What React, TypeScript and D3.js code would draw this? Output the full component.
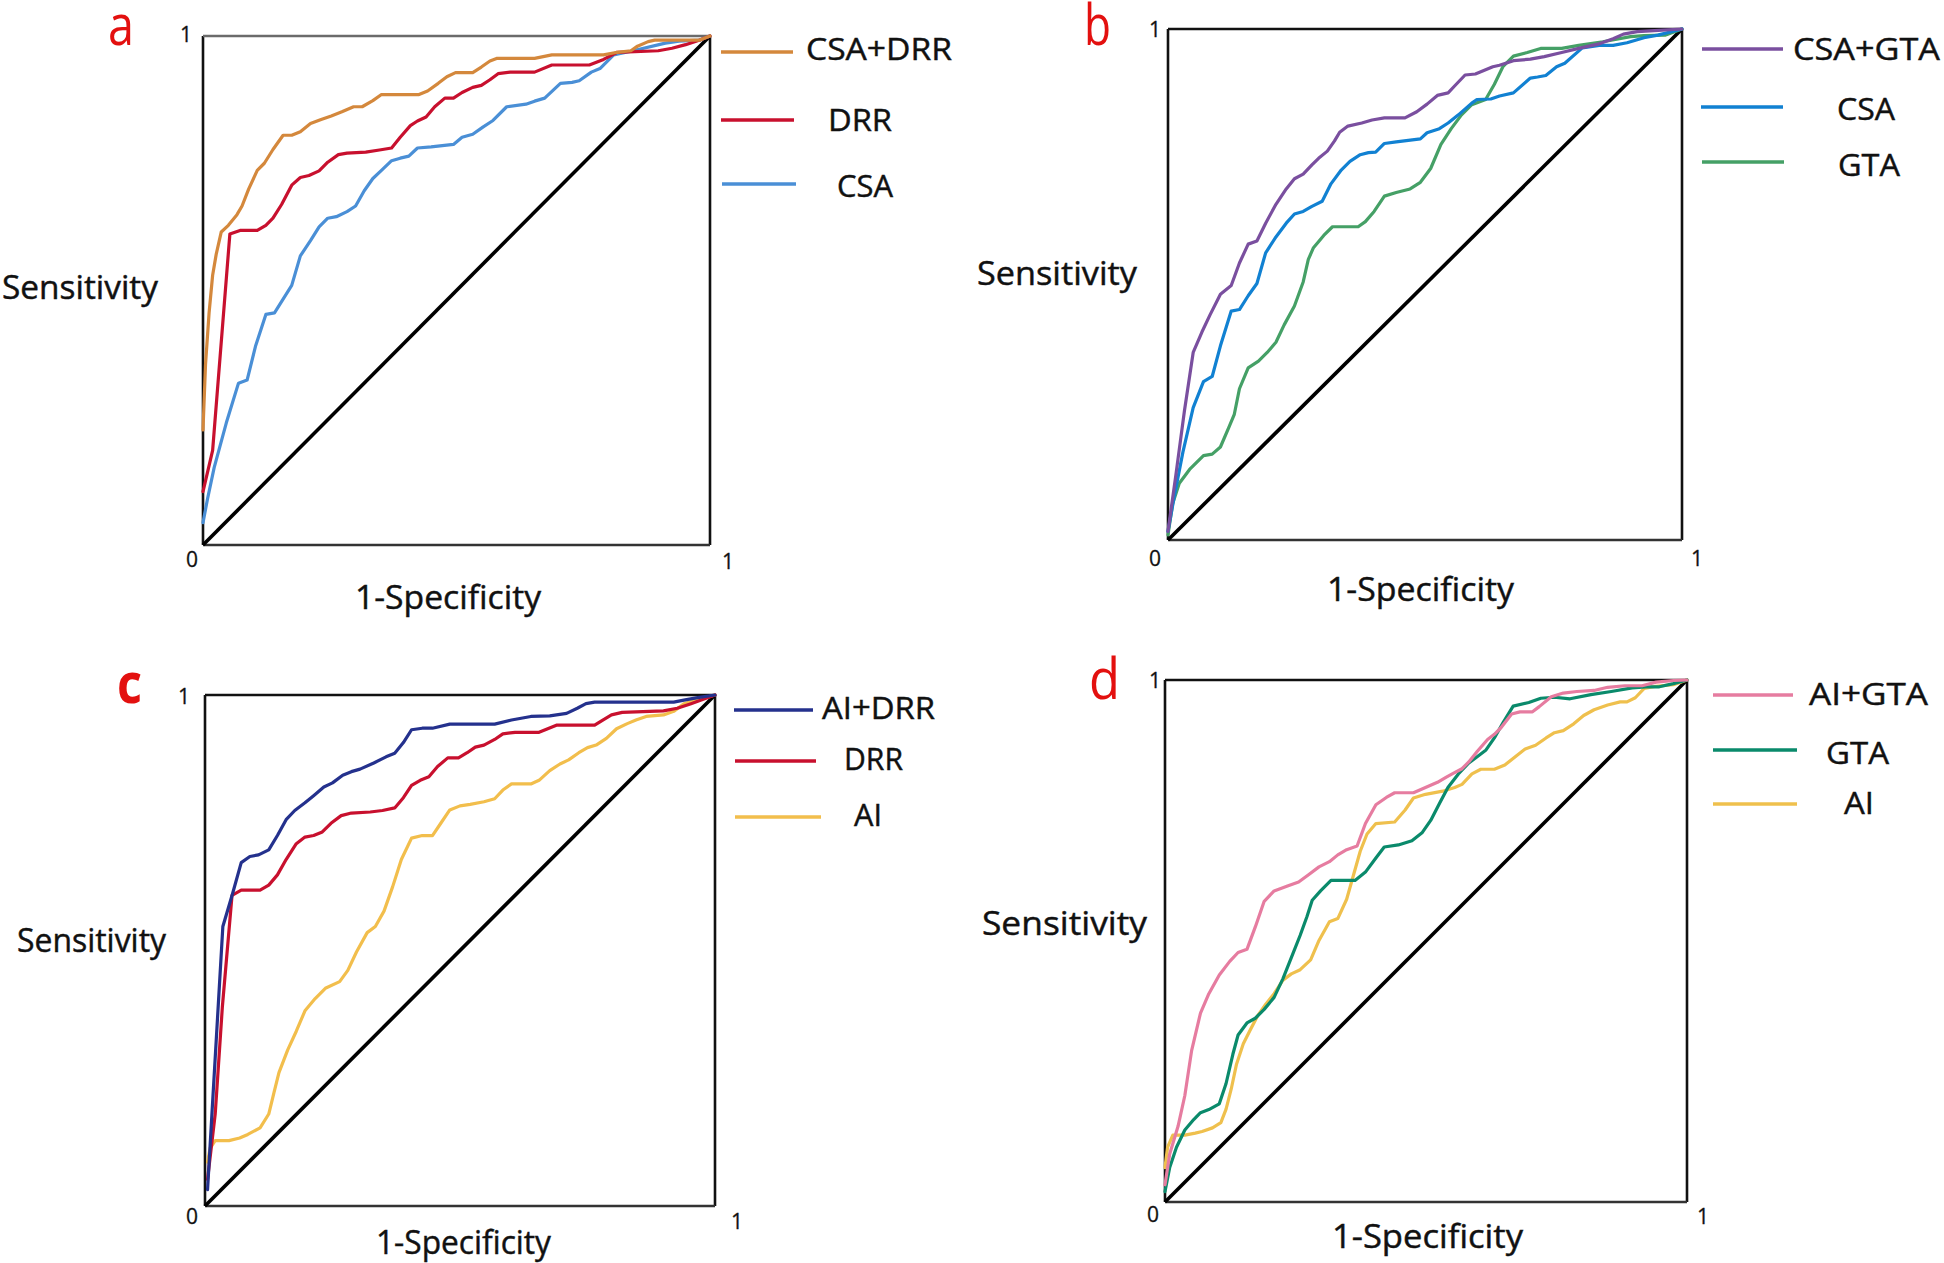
import React from "react";
import * as d3 from "d3";

// ---------- DATA ([1-Specificity, Sensitivity]) ----------
const panelA_CSA_DRR: [number, number][] = [
  [0, 0.226], [0.005, 0.355], [0.012, 0.456], [0.019, 0.53], [0.026, 0.571], [0.036, 0.615],
  [0.05, 0.628], [0.067, 0.649], [0.077, 0.666], [0.09, 0.699], [0.107, 0.736], [0.121, 0.75],
  [0.138, 0.777], [0.158, 0.805], [0.175, 0.805], [0.192, 0.812], [0.212, 0.828], [0.233, 0.836],
  [0.253, 0.843], [0.274, 0.851], [0.297, 0.861], [0.314, 0.861], [0.335, 0.873], [0.352, 0.885],
  [0.426, 0.885], [0.443, 0.892], [0.464, 0.907], [0.481, 0.92], [0.498, 0.928], [0.532, 0.928],
  [0.549, 0.939], [0.566, 0.951], [0.579, 0.956], [0.654, 0.956], [0.688, 0.963], [0.79, 0.963],
  [0.817, 0.968], [0.844, 0.971], [0.857, 0.98], [0.878, 0.989], [0.891, 0.992], [0.98, 0.992], [1, 1],
];
const panelA_DRR: [number, number][] = [
  [0, 0.105], [0.019, 0.186], [0.053, 0.611], [0.073, 0.618], [0.107, 0.618], [0.124, 0.628],
  [0.138, 0.642], [0.155, 0.669], [0.175, 0.707], [0.192, 0.722], [0.209, 0.726], [0.229, 0.735],
  [0.246, 0.752], [0.267, 0.767], [0.284, 0.77], [0.321, 0.772], [0.348, 0.776], [0.372, 0.78],
  [0.389, 0.801], [0.409, 0.824], [0.423, 0.833], [0.44, 0.841], [0.457, 0.861], [0.477, 0.878],
  [0.494, 0.878], [0.511, 0.889], [0.532, 0.899], [0.549, 0.903], [0.566, 0.914], [0.582, 0.926],
  [0.606, 0.929], [0.654, 0.929], [0.688, 0.943], [0.762, 0.943], [0.79, 0.954], [0.817, 0.968],
  [0.898, 0.971], [0.925, 0.976], [0.952, 0.983], [0.98, 0.992], [1, 1],
];
const panelA_CSA: [number, number][] = [
  [0, 0.044], [0.009, 0.091], [0.022, 0.152], [0.046, 0.24], [0.07, 0.318], [0.087, 0.324],
  [0.104, 0.392], [0.124, 0.453], [0.141, 0.456], [0.158, 0.483], [0.175, 0.51], [0.192, 0.568],
  [0.212, 0.598], [0.229, 0.625], [0.246, 0.642], [0.263, 0.645], [0.284, 0.655], [0.301, 0.666],
  [0.318, 0.696], [0.335, 0.72], [0.352, 0.736], [0.372, 0.755], [0.389, 0.76], [0.406, 0.764],
  [0.423, 0.78], [0.45, 0.782], [0.494, 0.787], [0.511, 0.801], [0.532, 0.807], [0.552, 0.821],
  [0.572, 0.834], [0.599, 0.861], [0.637, 0.866], [0.654, 0.872], [0.674, 0.878], [0.705, 0.907],
  [0.728, 0.909], [0.742, 0.912], [0.766, 0.929], [0.783, 0.936], [0.81, 0.963], [0.844, 0.97],
  [0.912, 0.986], [0.939, 0.99], [0.98, 0.992], [1, 1],
];

const panelB_CSA_GTA: [number, number][] = [
  [0, 0.017], [0.015, 0.125], [0.032, 0.253], [0.049, 0.367], [0.066, 0.407], [0.082, 0.441],
  [0.102, 0.481], [0.123, 0.498], [0.139, 0.542], [0.156, 0.579], [0.173, 0.585], [0.19, 0.62],
  [0.21, 0.657], [0.23, 0.687], [0.246, 0.707], [0.263, 0.716], [0.28, 0.734], [0.293, 0.747],
  [0.31, 0.761], [0.324, 0.781], [0.334, 0.798], [0.35, 0.81], [0.377, 0.816], [0.397, 0.822],
  [0.421, 0.826], [0.461, 0.826], [0.484, 0.838], [0.504, 0.853], [0.524, 0.87], [0.545, 0.875],
  [0.558, 0.889], [0.578, 0.91], [0.598, 0.912], [0.632, 0.926], [0.645, 0.929], [0.672, 0.938],
  [0.705, 0.941], [0.732, 0.946], [0.766, 0.954], [0.799, 0.962], [0.839, 0.971], [0.866, 0.981],
  [0.886, 0.99], [0.913, 0.995], [0.946, 0.997], [1, 1],
];
const panelB_CSA: [number, number][] = [
  [0, 0.017], [0.012, 0.084], [0.029, 0.172], [0.049, 0.259], [0.069, 0.31], [0.086, 0.32],
  [0.102, 0.38], [0.123, 0.448], [0.139, 0.451], [0.156, 0.478], [0.173, 0.502], [0.19, 0.562],
  [0.21, 0.593], [0.23, 0.62], [0.246, 0.638], [0.263, 0.643], [0.28, 0.653], [0.3, 0.663],
  [0.317, 0.697], [0.337, 0.724], [0.354, 0.741], [0.374, 0.754], [0.39, 0.758], [0.404, 0.759],
  [0.421, 0.776], [0.444, 0.779], [0.491, 0.785], [0.504, 0.797], [0.528, 0.805], [0.545, 0.816],
  [0.565, 0.832], [0.591, 0.855], [0.601, 0.862], [0.628, 0.863], [0.645, 0.869], [0.672, 0.875],
  [0.705, 0.904], [0.719, 0.906], [0.735, 0.909], [0.756, 0.926], [0.772, 0.933], [0.806, 0.963],
  [0.839, 0.968], [0.866, 0.968], [0.893, 0.973], [0.926, 0.983], [0.953, 0.988], [1, 1],
];
const panelB_GTA: [number, number][] = [
  [0, 0.01], [0.009, 0.071], [0.022, 0.111], [0.042, 0.138], [0.069, 0.165], [0.086, 0.168],
  [0.102, 0.182], [0.119, 0.222], [0.129, 0.246], [0.139, 0.296], [0.156, 0.337], [0.176, 0.35],
  [0.193, 0.367], [0.21, 0.387], [0.226, 0.421], [0.246, 0.458], [0.263, 0.505], [0.273, 0.549],
  [0.283, 0.572], [0.303, 0.596], [0.32, 0.613], [0.37, 0.613], [0.384, 0.623], [0.401, 0.643],
  [0.421, 0.673], [0.444, 0.68], [0.471, 0.687], [0.491, 0.7], [0.511, 0.727], [0.531, 0.774],
  [0.551, 0.805], [0.571, 0.832], [0.591, 0.852], [0.618, 0.862], [0.635, 0.892], [0.652, 0.927],
  [0.672, 0.947], [0.699, 0.954], [0.725, 0.962], [0.766, 0.962], [0.799, 0.968], [0.846, 0.975],
  [0.9, 0.985], [0.926, 0.987], [0.967, 0.988], [1, 1],
];

const panelC_AI_DRR: [number, number][] = [
  [0.005, 0.032], [0.014, 0.187], [0.035, 0.547], [0.054, 0.611], [0.071, 0.672], [0.088, 0.684],
  [0.105, 0.687], [0.125, 0.697], [0.142, 0.725], [0.159, 0.756], [0.176, 0.774], [0.196, 0.789],
  [0.213, 0.803], [0.233, 0.82], [0.25, 0.828], [0.27, 0.843], [0.287, 0.85], [0.304, 0.855],
  [0.331, 0.867], [0.355, 0.879], [0.372, 0.886], [0.389, 0.907], [0.405, 0.932], [0.426, 0.935],
  [0.446, 0.935], [0.48, 0.943], [0.568, 0.943], [0.601, 0.951], [0.639, 0.958], [0.676, 0.959],
  [0.709, 0.964], [0.73, 0.974], [0.747, 0.983], [0.764, 0.986], [0.919, 0.986], [0.939, 0.99],
  [0.966, 0.995], [1, 1],
];
const panelC_DRR: [number, number][] = [
  [0.005, 0.052], [0.02, 0.18], [0.034, 0.389], [0.053, 0.608], [0.071, 0.618], [0.108, 0.618],
  [0.125, 0.628], [0.142, 0.648], [0.159, 0.678], [0.179, 0.709], [0.196, 0.722], [0.213, 0.725],
  [0.23, 0.732], [0.247, 0.749], [0.267, 0.764], [0.287, 0.769], [0.324, 0.771], [0.348, 0.774],
  [0.372, 0.779], [0.389, 0.799], [0.405, 0.823], [0.422, 0.833], [0.439, 0.84], [0.456, 0.86],
  [0.476, 0.877], [0.497, 0.877], [0.514, 0.887], [0.53, 0.898], [0.547, 0.902], [0.568, 0.913],
  [0.584, 0.924], [0.608, 0.927], [0.655, 0.927], [0.689, 0.941], [0.764, 0.941], [0.78, 0.951],
  [0.797, 0.961], [0.818, 0.966], [0.899, 0.969], [0.926, 0.974], [0.953, 0.983], [0.973, 0.99], [1, 1],
];
const panelC_AI: [number, number][] = [
  [0.005, 0.086], [0.01, 0.113], [0.02, 0.128], [0.047, 0.128], [0.068, 0.133], [0.084, 0.14],
  [0.108, 0.153], [0.125, 0.18], [0.135, 0.221], [0.145, 0.261], [0.162, 0.305], [0.179, 0.342],
  [0.196, 0.382], [0.216, 0.406], [0.236, 0.426], [0.264, 0.439], [0.28, 0.461], [0.297, 0.497],
  [0.318, 0.535], [0.334, 0.547], [0.351, 0.577], [0.368, 0.625], [0.385, 0.678], [0.405, 0.72],
  [0.426, 0.725], [0.446, 0.725], [0.463, 0.75], [0.48, 0.775], [0.5, 0.783], [0.52, 0.786],
  [0.547, 0.791], [0.568, 0.797], [0.584, 0.814], [0.601, 0.826], [0.639, 0.826], [0.655, 0.833],
  [0.676, 0.852], [0.696, 0.865], [0.713, 0.873], [0.733, 0.887], [0.75, 0.897], [0.767, 0.902],
  [0.787, 0.915], [0.807, 0.934], [0.828, 0.944], [0.845, 0.951], [0.865, 0.958], [0.899, 0.961],
  [0.919, 0.968], [0.939, 0.983], [0.966, 0.991], [1, 1],
];

const panelD_AI_GTA: [number, number][] = [
  [0, 0.033], [0.009, 0.092], [0.025, 0.145], [0.038, 0.204], [0.051, 0.29], [0.068, 0.362],
  [0.084, 0.399], [0.104, 0.435], [0.124, 0.461], [0.14, 0.478], [0.157, 0.484], [0.173, 0.527],
  [0.19, 0.576], [0.209, 0.596], [0.236, 0.606], [0.256, 0.613], [0.275, 0.627], [0.295, 0.642],
  [0.315, 0.652], [0.331, 0.665], [0.348, 0.675], [0.368, 0.682], [0.384, 0.725], [0.404, 0.761],
  [0.424, 0.775], [0.44, 0.784], [0.476, 0.784], [0.499, 0.794], [0.522, 0.804], [0.539, 0.814],
  [0.552, 0.821], [0.569, 0.83], [0.582, 0.843], [0.598, 0.863], [0.618, 0.886], [0.631, 0.896],
  [0.644, 0.909], [0.664, 0.935], [0.68, 0.939], [0.704, 0.939], [0.717, 0.949], [0.74, 0.968],
  [0.763, 0.975], [0.789, 0.978], [0.822, 0.98], [0.848, 0.986], [0.881, 0.989], [0.914, 0.989],
  [0.941, 0.996], [0.974, 0.999], [1, 1],
];
const panelD_GTA: [number, number][] = [
  [0, 0.02], [0.009, 0.066], [0.022, 0.105], [0.038, 0.138], [0.055, 0.158], [0.068, 0.171],
  [0.084, 0.177], [0.104, 0.188], [0.117, 0.227], [0.13, 0.283], [0.14, 0.32], [0.157, 0.343],
  [0.173, 0.352], [0.19, 0.369], [0.209, 0.392], [0.226, 0.428], [0.242, 0.468], [0.259, 0.511],
  [0.272, 0.547], [0.282, 0.578], [0.298, 0.596], [0.318, 0.616], [0.364, 0.616], [0.384, 0.632],
  [0.404, 0.659], [0.42, 0.68], [0.447, 0.684], [0.473, 0.692], [0.493, 0.708], [0.509, 0.731],
  [0.526, 0.764], [0.542, 0.794], [0.562, 0.82], [0.582, 0.841], [0.598, 0.853], [0.615, 0.866],
  [0.631, 0.889], [0.648, 0.919], [0.667, 0.95], [0.697, 0.957], [0.72, 0.965], [0.746, 0.967],
  [0.776, 0.964], [0.816, 0.972], [0.855, 0.978], [0.895, 0.985], [0.921, 0.987], [0.947, 0.987],
  [0.974, 0.993], [1, 1],
];
const panelD_AI: [number, number][] = [
  [0, 0.066], [0.005, 0.105], [0.015, 0.128], [0.038, 0.128], [0.058, 0.132], [0.071, 0.135],
  [0.091, 0.142], [0.107, 0.152], [0.117, 0.178], [0.127, 0.217], [0.137, 0.264], [0.15, 0.303],
  [0.163, 0.329], [0.177, 0.356], [0.193, 0.379], [0.209, 0.399], [0.226, 0.425], [0.242, 0.437],
  [0.259, 0.445], [0.279, 0.464], [0.295, 0.501], [0.315, 0.537], [0.331, 0.543], [0.348, 0.58],
  [0.361, 0.626], [0.374, 0.672], [0.387, 0.705], [0.404, 0.725], [0.44, 0.728], [0.46, 0.751],
  [0.476, 0.774], [0.499, 0.781], [0.532, 0.787], [0.555, 0.794], [0.569, 0.8], [0.588, 0.82],
  [0.605, 0.829], [0.631, 0.829], [0.651, 0.837], [0.671, 0.853], [0.69, 0.868], [0.71, 0.875],
  [0.73, 0.889], [0.746, 0.899], [0.763, 0.903], [0.783, 0.916], [0.802, 0.932], [0.822, 0.943],
  [0.848, 0.952], [0.872, 0.958], [0.885, 0.958], [0.901, 0.966], [0.918, 0.984], [0.941, 0.988],
  [0.974, 0.991], [1, 1],
];

const panelLetters = ["a", "b", "c", "d"];
const legendA = ["CSA+DRR", "DRR", "CSA"];
const legendB = ["CSA+GTA", "CSA", "GTA"];
const legendC = ["AI+DRR", "DRR", "AI"];
const legendD = ["AI+GTA", "GTA", "AI"];
const xTitle = "1-Specificity";
const yTitle = "Sensitivity";
const tickLabels = ["0", "1"];

// ---------- LAYOUT / STYLE ----------
const FONT = "'Open Sans', 'Noto Sans', sans-serif";
const TXT_STROKE = 0.45;

type Legend = { lx0: number; lx1: number; ly: number; tx: number; tw: number; ty: number };
type PanelCfg = {
  letter: string;
  box: { x0: number; x1: number; y0: number; y1: number };
  topColor: string;
  series: { name: string; data: [number, number][]; color: string }[];
  legend: Legend[];
  letterPos: [number, number, number];
  letterWeight: number;
  tick1Top: [number, number];
  tick0: [number, number];
  tick1Right: [number, number];
  yTitlePos: [number, number, number];
  xTitlePos: [number, number, number];
};

const panels: PanelCfg[] = [
  {
    letter: panelLetters[0],
    box: { x0: 203, x1: 710, y0: 36, y1: 545 },
    topColor: "#6b6b6b",
    series: [
      { name: legendA[0], data: panelA_CSA_DRR, color: "#d4883c" },
      { name: legendA[1], data: panelA_DRR, color: "#c8102e" },
      { name: legendA[2], data: panelA_CSA, color: "#4a8fd6" },
    ],
    legend: [
      { lx0: 721, lx1: 793, ly: 52, tx: 806, tw: 146, ty: 60 },
      { lx0: 721, lx1: 794, ly: 120, tx: 828, tw: 64, ty: 131 },
      { lx0: 722, lx1: 796, ly: 184, tx: 837, tw: 56, ty: 197 },
    ],
    letterPos: [108, 45, 26],
    letterWeight: 400,
    tick1Top: [180, 42],
    tick0: [186, 567],
    tick1Right: [722, 569],
    yTitlePos: [2, 299, 156],
    xTitlePos: [355, 609, 186],
  },
  {
    letter: panelLetters[1],
    box: { x0: 1168, x1: 1682, y0: 29, y1: 540 },
    topColor: "#111",
    series: [
      { name: legendB[0], data: panelB_CSA_GTA, color: "#7a4f9f" },
      { name: legendB[1], data: panelB_CSA, color: "#1181d2" },
      { name: legendB[2], data: panelB_GTA, color: "#45a066" },
    ],
    legend: [
      { lx0: 1702, lx1: 1783, ly: 49, tx: 1793, tw: 147, ty: 60 },
      { lx0: 1701, lx1: 1783, ly: 107, tx: 1837, tw: 58, ty: 120 },
      { lx0: 1702, lx1: 1784, ly: 162, tx: 1838, tw: 62, ty: 176 },
    ],
    letterPos: [1084, 45, 27],
    letterWeight: 400,
    tick1Top: [1149, 37],
    tick0: [1149, 566],
    tick1Right: [1691, 566],
    yTitlePos: [977, 285, 160],
    xTitlePos: [1327, 601, 187],
  },
  {
    letter: panelLetters[2],
    box: { x0: 205, x1: 715, y0: 695, y1: 1206 },
    topColor: "#111",
    series: [
      { name: legendC[0], data: panelC_AI_DRR, color: "#24318d" },
      { name: legendC[1], data: panelC_DRR, color: "#c8102e" },
      { name: legendC[2], data: panelC_AI, color: "#f2be4c" },
    ],
    legend: [
      { lx0: 734, lx1: 813, ly: 710, tx: 822, tw: 113, ty: 719 },
      { lx0: 735, lx1: 816, ly: 761, tx: 844, tw: 59, ty: 770 },
      { lx0: 735, lx1: 821, ly: 817, tx: 854, tw: 28, ty: 826 },
    ],
    letterPos: [117, 703, 25],
    letterWeight: 700,
    tick1Top: [178, 704],
    tick0: [186, 1224],
    tick1Right: [731, 1229],
    yTitlePos: [17, 952, 149],
    xTitlePos: [376, 1254, 175],
  },
  {
    letter: panelLetters[3],
    box: { x0: 1165, x1: 1687, y0: 680, y1: 1202 },
    topColor: "#111",
    series: [
      { name: legendD[0], data: panelD_AI_GTA, color: "#e67ca0" },
      { name: legendD[1], data: panelD_GTA, color: "#0a8a6b" },
      { name: legendD[2], data: panelD_AI, color: "#efc04d" },
    ],
    legend: [
      { lx0: 1713, lx1: 1793, ly: 695, tx: 1809, tw: 119, ty: 705 },
      { lx0: 1713, lx1: 1797, ly: 750, tx: 1826, tw: 63, ty: 764 },
      { lx0: 1713, lx1: 1797, ly: 804, tx: 1844, tw: 30, ty: 814 },
    ],
    letterPos: [1089, 699, 31],
    letterWeight: 400,
    tick1Top: [1149, 688],
    tick0: [1147, 1222],
    tick1Right: [1697, 1224],
    yTitlePos: [982, 935, 165],
    xTitlePos: [1332, 1248, 191],
  },
];

function Panel({ cfg }: { cfg: PanelCfg }) {
  const { box } = cfg;
  const x = d3.scaleLinear().domain([0, 1]).range([box.x0, box.x1]);
  const y = d3.scaleLinear().domain([0, 1]).range([box.y1, box.y0]);
  const line = d3
    .line<[number, number]>()
    .x((d) => x(d[0]))
    .y((d) => y(d[1]));
  const diag: [number, number][] = [
    [0, 0],
    [1, 1],
  ];
  const txt = { fontFamily: FONT, fill: "#111", stroke: "#111", strokeWidth: TXT_STROKE };
  return (
    <g>
      {/* box */}
      <line x1={x(0)} x2={x(0)} y1={y(0)} y2={y(1)} stroke="#111" strokeWidth={2.6} />
      <line x1={x(1)} x2={x(1)} y1={y(0)} y2={y(1)} stroke="#111" strokeWidth={2.6} />
      <line x1={x(0)} x2={x(1)} y1={y(0)} y2={y(0)} stroke="#333" strokeWidth={2.6} />
      <line x1={x(0)} x2={x(1)} y1={y(1)} y2={y(1)} stroke={cfg.topColor} strokeWidth={2.6} />
      {/* diagonal */}
      <path d={line(diag) || ""} stroke="#000" strokeWidth={3.6} fill="none" />
      {/* curves, drawn last series first so the first sits on top */}
      {[...cfg.series].reverse().map((s) => (
        <path
          key={s.name}
          d={line(s.data) || ""}
          stroke={s.color}
          strokeWidth={3.2}
          fill="none"
          strokeLinejoin="round"
          strokeLinecap="round"
        />
      ))}
      {/* legend */}
      {cfg.series.map((s, i) => {
        const L = cfg.legend[i];
        return (
          <g key={"lg" + s.name}>
            <line x1={L.lx0} x2={L.lx1} y1={L.ly} y2={L.ly} stroke={s.color} strokeWidth={3.6} />
            <text x={L.tx} y={L.ty} fontSize={31} {...txt} textLength={L.tw} lengthAdjust="spacingAndGlyphs">
              {s.name}
            </text>
          </g>
        );
      })}
      {/* panel letter */}
      <text
        x={cfg.letterPos[0]}
        y={cfg.letterPos[1]}
        fontSize={56}
        fontFamily={FONT}
        fontWeight={cfg.letterWeight}
        fill="#e3100f"
        textLength={cfg.letterPos[2]}
        lengthAdjust="spacingAndGlyphs"
      >
        {cfg.letter}
      </text>
      {/* ticks */}
      <text x={cfg.tick1Top[0]} y={cfg.tick1Top[1]} fontSize={21} {...txt} strokeWidth={0.3}>
        {tickLabels[1]}
      </text>
      <text x={cfg.tick0[0]} y={cfg.tick0[1]} fontSize={21} {...txt} strokeWidth={0.3}>
        {tickLabels[0]}
      </text>
      <text x={cfg.tick1Right[0]} y={cfg.tick1Right[1]} fontSize={21} {...txt} strokeWidth={0.3}>
        {tickLabels[1]}
      </text>
      {/* axis titles */}
      <text
        x={cfg.yTitlePos[0]}
        y={cfg.yTitlePos[1]}
        fontSize={33}
        {...txt}
        textLength={cfg.yTitlePos[2]}
        lengthAdjust="spacingAndGlyphs"
      >
        {yTitle}
      </text>
      <text
        x={cfg.xTitlePos[0]}
        y={cfg.xTitlePos[1]}
        fontSize={33}
        {...txt}
        textLength={cfg.xTitlePos[2]}
        lengthAdjust="spacingAndGlyphs"
      >
        {xTitle}
      </text>
    </g>
  );
}

export default function App() {
  return (
    <svg
      width={1944}
      height={1263}
      viewBox="0 0 1944 1263"
      style={{ position: "absolute", left: 0, top: 0, background: "#fff" }}
    >
      <rect x={0} y={0} width={1944} height={1263} fill="#fff" />
      {panels.map((p) => (
        <Panel key={p.letter} cfg={p} />
      ))}
    </svg>
  );
}
